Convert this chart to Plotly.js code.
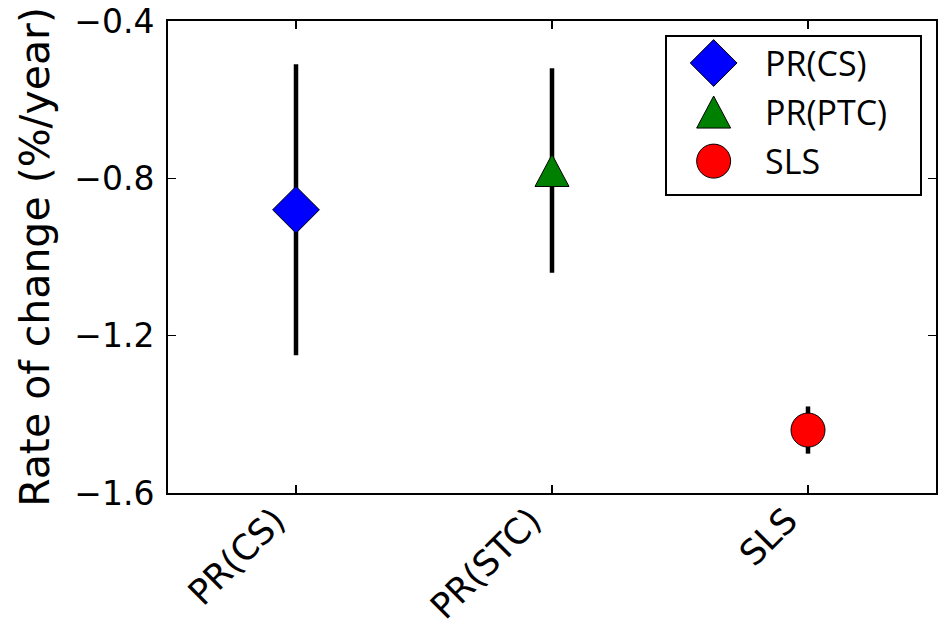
<!DOCTYPE html>
<html>
<head>
<meta charset="utf-8">
<script src="https://cdn.plot.ly/plotly-3.0.1.min.js"></script>
<style>
  html, body { margin: 0; padding: 0; background: #ffffff; }
  #chart { width: 942px; height: 627px; }
</style>
</head>
<body>
<div id="chart"></div>
<script>
// Estimated rates of change and their uncertainties
const methods = ['PR(CS)', 'PR(STC)', 'SLS'];
const rates = [-0.88, -0.78, -1.44];
const uncertainties = [0.37, 0.26, 0.06];

// Key entries (one per method)
const keyLabels = ['PR(CS)', 'PR(PTC)', 'SLS'];
const keyRows = [0, 1, 2];

// Marker styling per method. The triangle is drawn as a pixel-sized path
// anchored on its value, so the built-in glyph for it is left transparent.
const colors = ['#0000ff', '#008000', '#ff0000'];
const symbols = ['diamond', 'triangle-up', 'circle'];
const sizes = [36, 30, 34];
const glyphOpacity = [1, 0, 1];
const TRIANGLE = 1;
const trianglePath = 'M-17,-16 L17,-16 L0,16 Z';

const tickFont = { family: 'DejaVu Sans', size: 33, color: '#000000' };

const markerStyle = {
  color: colors,
  symbol: symbols,
  size: sizes,
  opacity: glyphOpacity,
  line: { color: '#000000', width: 1 }
};

const points = {
  type: 'scatter',
  mode: 'markers',
  x: methods,
  y: rates,
  xaxis: 'x',
  yaxis: 'y',
  showlegend: false,
  hoverinfo: 'skip',
  error_y: {
    type: 'data',
    array: uncertainties,
    symmetric: true,
    color: '#000000',
    thickness: 4.5,
    width: 0
  },
  marker: markerStyle
};

// Hand-built key drawn in its own small framed subplot
const keyMarkers = {
  type: 'scatter',
  mode: 'markers',
  x: keyRows.map(() => 0),
  y: keyRows,
  xaxis: 'x2',
  yaxis: 'y2',
  showlegend: false,
  hoverinfo: 'skip',
  marker: markerStyle
};

const keyText = keyLabels.map((t, i) => ({
  xref: 'x2', yref: 'y2',
  x: 1.0, y: keyRows[i],
  text: t,
  showarrow: false,
  xanchor: 'left', yanchor: 'middle',
  font: { family: 'Open Sans', size: 34, color: '#000000' }
}));

// Equal-sided triangle glyphs (plot and key)
function triangleShape(xref, yref, xa, ya) {
  return {
    type: 'path',
    xref: xref, yref: yref,
    xsizemode: 'pixel', ysizemode: 'pixel',
    xanchor: xa, yanchor: ya,
    path: trianglePath,
    fillcolor: colors[TRIANGLE],
    line: { color: '#000000', width: 1 },
    layer: 'above'
  };
}

const shapes = [
  triangleShape('x', 'y', methods[TRIANGLE], rates[TRIANGLE]),
  triangleShape('x2', 'y2', 0, keyRows[TRIANGLE])
];

const layout = {
  width: 942,
  height: 627,
  margin: { l: 168, r: 6, t: 21, b: 134 },
  paper_bgcolor: '#ffffff',
  plot_bgcolor: '#ffffff',
  showlegend: false,
  xaxis: {
    type: 'category',
    categoryorder: 'array',
    categoryarray: methods,
    range: [-0.5, 2.5],
    showline: true,
    linecolor: '#000000',
    linewidth: 2,
    mirror: 'ticks',
    ticks: 'inside',
    ticklen: 8,
    tickwidth: 1.5,
    tickcolor: '#000000',
    tickangle: -45,
    tickfont: { family: 'DejaVu Sans', size: 35, color: '#000000' },
    ticklabelshift: -21,
    ticklabelstandoff: -9,
    showgrid: false,
    zeroline: false,
    automargin: false
  },
  yaxis: {
    range: [-1.6, -0.4],
    tickmode: 'array',
    tickvals: [-1.6, -1.2, -0.8, -0.4],
    tickformat: '.1f',
    showline: true,
    linecolor: '#000000',
    linewidth: 2,
    mirror: 'ticks',
    ticks: 'inside',
    ticklen: 8,
    tickwidth: 1.5,
    tickcolor: '#000000',
    ticklabelstandoff: 5,
    tickfont: tickFont,
    showgrid: false,
    zeroline: false,
    automargin: false,
    title: {
      text: 'Rate of change (%/year)',
      font: { family: 'DejaVu Sans', size: 41, color: '#000000' },
      standoff: 12
    }
  },
  xaxis2: {
    domain: [0.6497, 0.9792],
    anchor: 'y2',
    range: [-0.95, 4.2],
    showline: true, mirror: true, linecolor: '#000000', linewidth: 2,
    showgrid: false, zeroline: false, showticklabels: false, ticks: '',
    fixedrange: true
  },
  yaxis2: {
    domain: [0.6335, 0.9661],
    anchor: 'x2',
    range: [2.67, -0.53],
    showline: true, mirror: true, linecolor: '#000000', linewidth: 2,
    showgrid: false, zeroline: false, showticklabels: false, ticks: '',
    fixedrange: true
  },
  shapes: shapes,
  annotations: keyText
};

Plotly.newPlot('chart', [points, keyMarkers], layout, { displayModeBar: false, staticPlot: true });
</script>
</body>
</html>
